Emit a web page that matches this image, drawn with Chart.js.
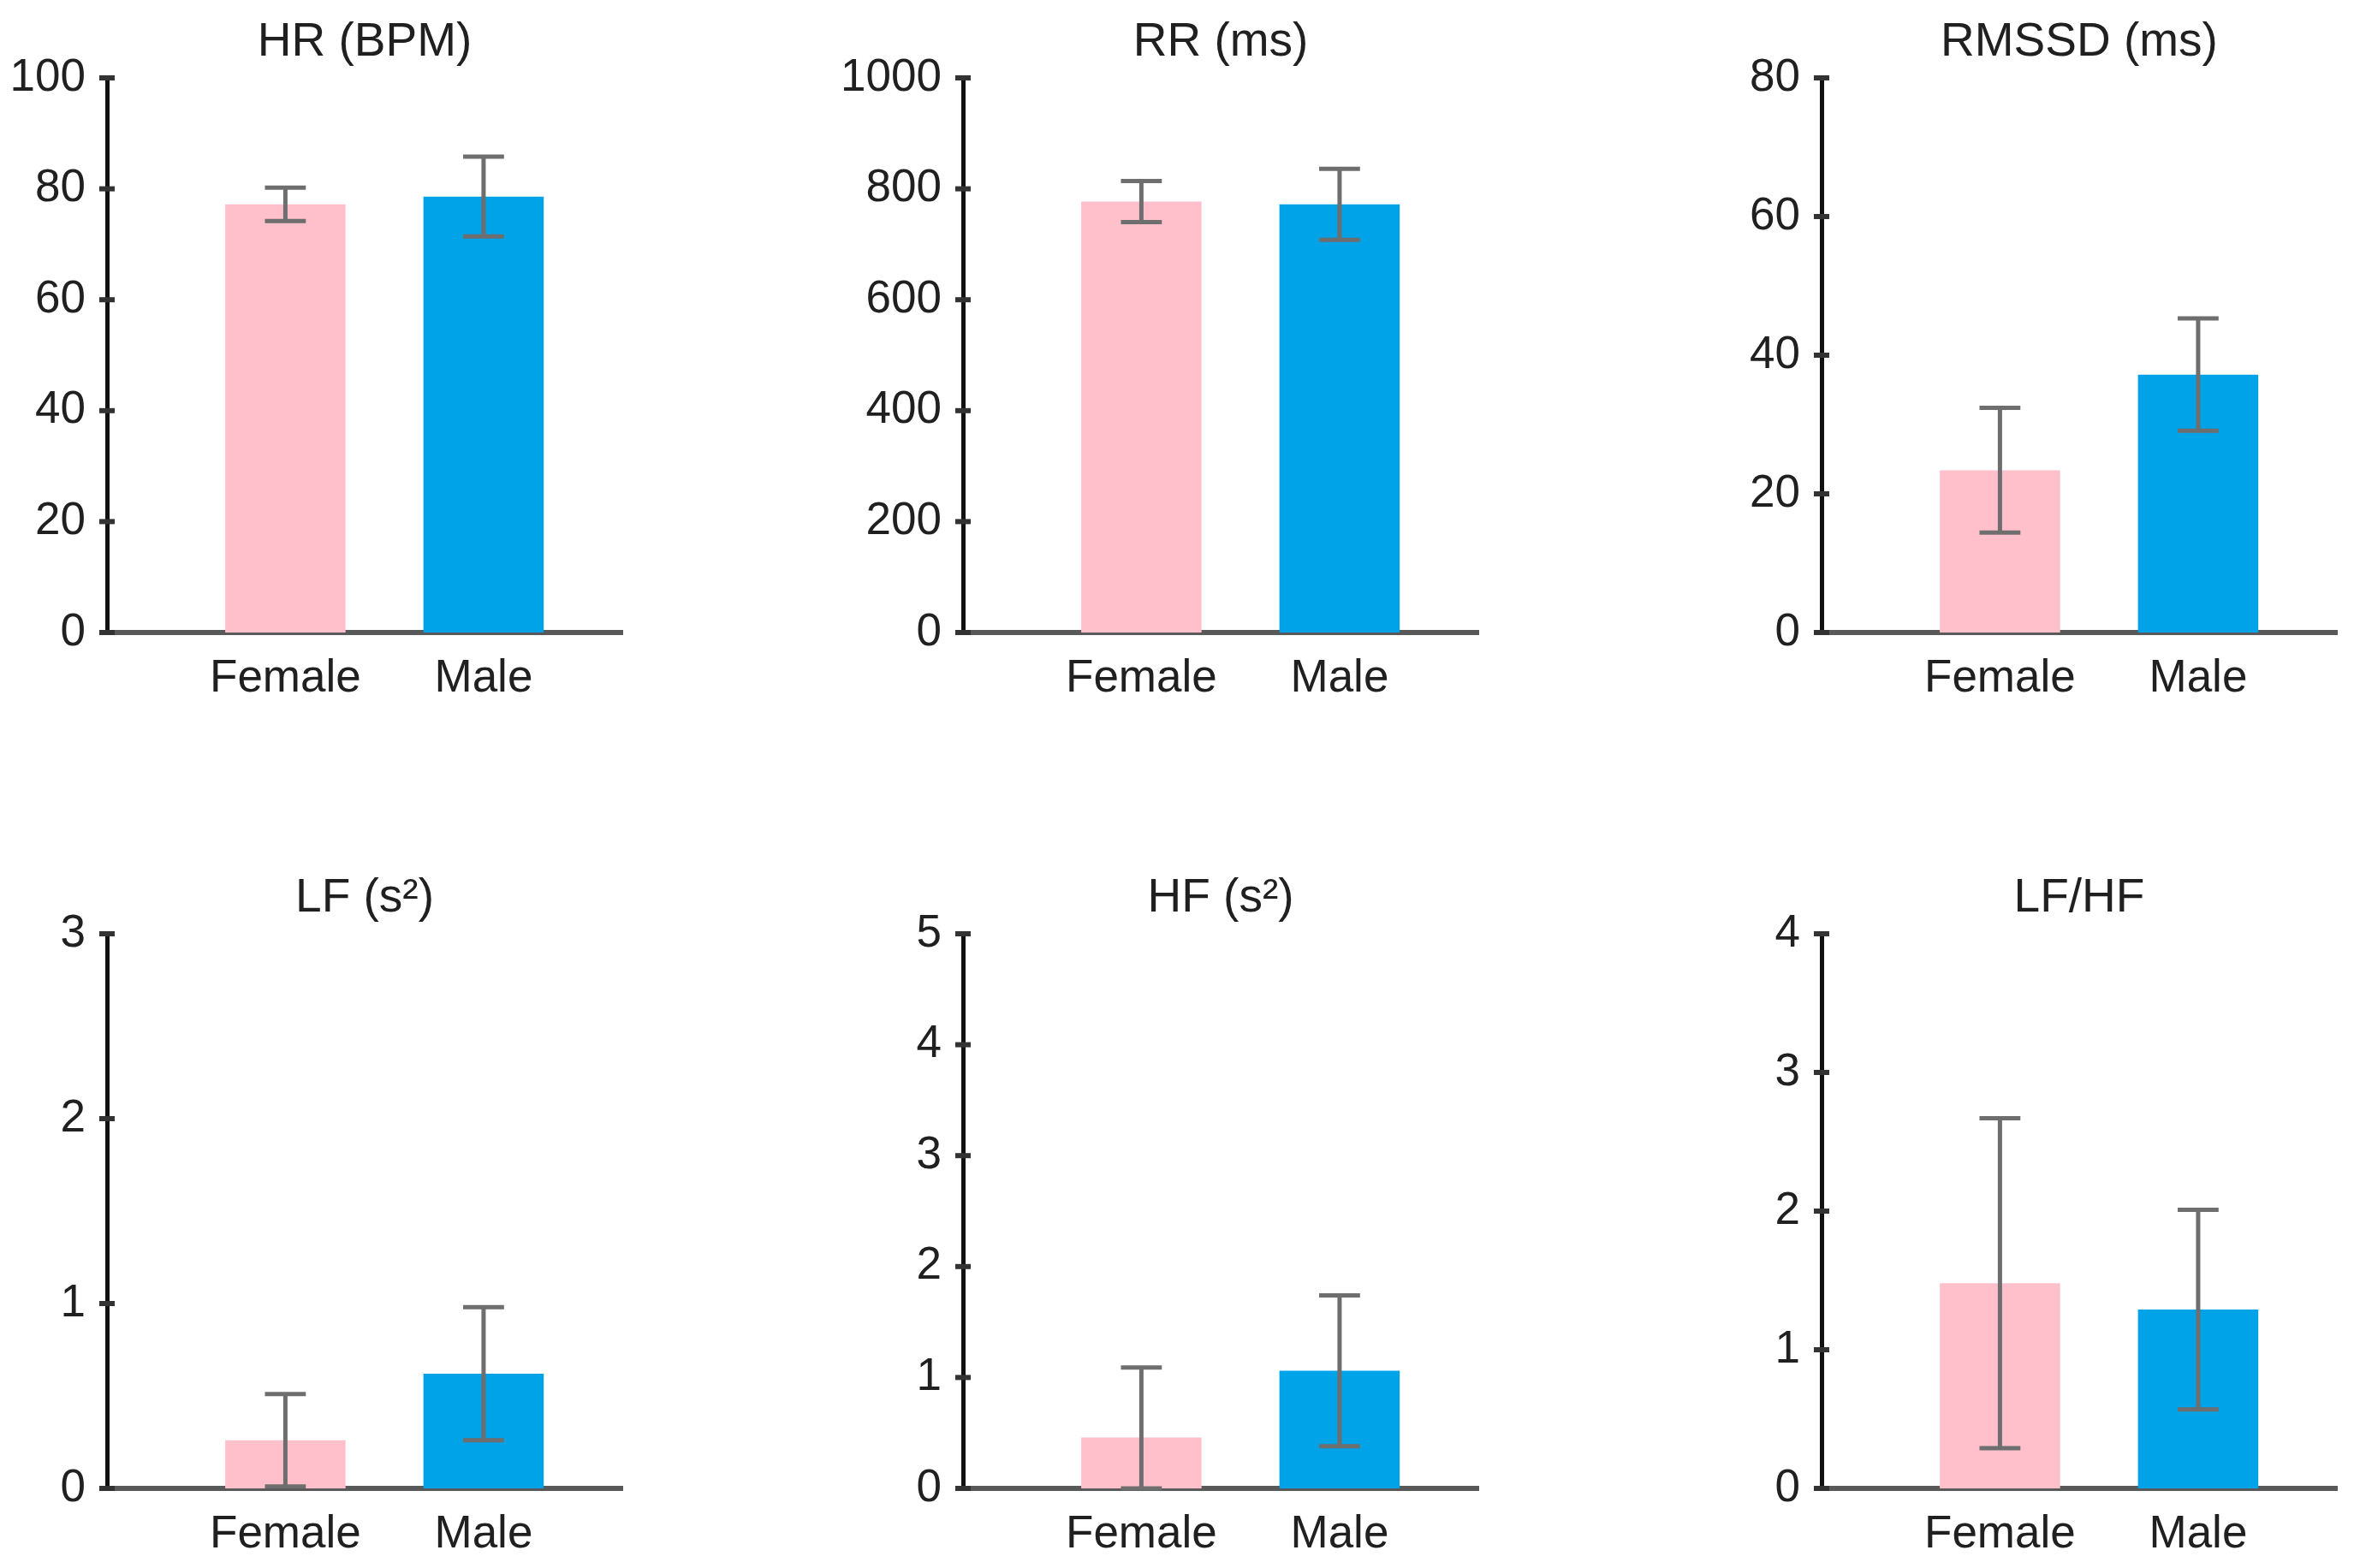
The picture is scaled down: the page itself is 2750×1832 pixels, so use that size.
<!DOCTYPE html>
<html lang="en">
<head>
  <meta charset="UTF-8" />
  <title>HRV by sex</title>
  <script src="https://cdn.jsdelivr.net/npm/chart.js"></script>
  <style>
    body {
      margin: 0;
      background: #fff;
      overflow: hidden;
      width: 2750px;
      height: 1832px;
      position: relative;
    }

    .panel {
      position: absolute;
      width: 807px;
      height: 916px;
    }
  </style>
</head>

<body>
  <div class="panel" style="left: -60px; top: 0px;"><canvas id="c0"></canvas></div>
  <div class="panel" style="left: 940px; top: 0px;"><canvas id="c1"></canvas></div>
  <div class="panel" style="left: 1943px; top: 0px;"><canvas id="c2"></canvas></div>
  <div class="panel" style="left: -60px; top: 1000px;"><canvas id="c3"></canvas></div>
  <div class="panel" style="left: 940px; top: 1000px;"><canvas id="c4"></canvas></div>
  <div class="panel" style="left: 1943px; top: 1000px;"><canvas id="c5"></canvas></div>

  <script>
    // groups and panels
    const groups = ['Female', 'Male'];
    const titles = ['HR (BPM)', 'RR (ms)', 'RMSSD (ms)', 'LF (s²)', 'HF (s²)', 'LF/HF'];

    // mean and SD per group
    const hrMean = [77.2, 78.6];
    const hrSd = [3.0, 7.2];
    const rrMean = [777, 772];
    const rrSd = [37, 64];
    const rmssdMean = [23.4, 37.2];
    const rmssdSd = [9.0, 8.1];
    const lfMean = [0.26, 0.62];
    const lfSd = [0.25, 0.36];
    const hfMean = [0.46, 1.06];
    const hfSd = [0.63, 0.68];
    const lfhfMean = [1.48, 1.29];
    const lfhfSd = [1.19, 0.72];

    // y axis range per panel
    const yMax = [100, 1000, 80, 3, 5, 4];
    const yStep = [20, 200, 20, 1, 1, 1];

    const means = [hrMean, rrMean, rmssdMean, lfMean, hfMean, lfhfMean];
    const sds = [hrSd, rrSd, rmssdSd, lfSd, hfSd, lfhfSd];

    const barColors = ['#FFC0CB', '#00A2E8'];
    const textColor = '#202020';
    const fontFamily = "'Liberation Sans', Arial, sans-serif";

    // error bars + y tick marks that cross the axis
    const errorBars = {
      id: 'errorBars',
      afterDatasetsDraw(chart) {
        const ctx = chart.ctx;
        const y = chart.scales.y;
        const area = chart.chartArea;
        const ds = chart.data.datasets[0];
        const meta = chart.getDatasetMeta(0);

        ctx.save();
        ctx.strokeStyle = '#6e6e6e';
        ctx.lineWidth = 5;
        meta.data.forEach((bar, i) => {
          const m = ds.data[i].y;
          const sd = ds.sd[i];
          const top = y.getPixelForValue(m + sd);
          const bot = y.getPixelForValue(Math.max(m - sd, y.min));
          const half = bar.width * 0.17;
          ctx.beginPath();
          ctx.moveTo(bar.x, top);
          ctx.lineTo(bar.x, bot);
          ctx.moveTo(bar.x - half, top);
          ctx.lineTo(bar.x + half, top);
          ctx.moveTo(bar.x - half, bot);
          ctx.lineTo(bar.x + half, bot);
          ctx.stroke();
        });

        ctx.strokeStyle = '#333';
        ctx.lineWidth = 6;
        y.ticks.forEach(t => {
          const py = y.getPixelForValue(t.value);
          ctx.beginPath();
          ctx.moveTo(area.left - 9, py);
          ctx.lineTo(area.left + 9, py);
          ctx.stroke();
        });
        ctx.restore();
      }
    };

    function makeChart(i) {
      return new Chart(document.getElementById('c' + i), {
        type: 'bar',
        data: {
          datasets: [{
            data: groups.map((g, j) => ({ x: j, y: means[i][j] })),
            sd: sds[i],
            backgroundColor: barColors,
            borderWidth: 0,
            barPercentage: 1,
            categoryPercentage: 0.607
          }]
        },
        options: {
          responsive: true,
          maintainAspectRatio: false,
          animation: false,
          devicePixelRatio: 1,
          layout: { padding: { top: 0, right: 20, bottom: 90, left: 0 } },
          plugins: {
            legend: { display: false },
            tooltip: { enabled: false },
            title: {
              display: true,
              text: titles[i],
              fullSize: false,
              color: textColor,
              font: { family: fontFamily, size: 55, weight: 'normal' },
              padding: { top: 17, bottom: 8 }
            }
          },
          scales: {
            x: {
              type: 'linear',
              offset: false,
              min: -0.9,
              max: 1.7,
              afterBuildTicks: s => { s.ticks = [{ value: 0 }, { value: 1 }]; },
              afterFit: s => { s.height = 87; },
              grid: { display: false, drawTicks: false },
              border: { display: true, color: '#595959', width: 6 },
              ticks: {
                autoSkip: false,
                maxRotation: 0,
                padding: 23,
                color: textColor,
                font: { family: fontFamily, size: 53 },
                callback: v => groups[v]
              }
            },
            y: {
              min: 0,
              max: yMax[i],
              afterFit: s => { s.width = 185; },
              grid: { display: false, drawTicks: false },
              border: { display: true, color: '#111', width: 5 },
              ticks: {
                stepSize: yStep[i],
                padding: 25,
                color: textColor,
                font: { family: fontFamily, size: 53 },
                callback: v => String(v)
              }
            }
          }
        },
        plugins: [errorBars]
      });
    }

    for (let i = 0; i < titles.length; i++) makeChart(i);
  </script>
</body>
</html>
